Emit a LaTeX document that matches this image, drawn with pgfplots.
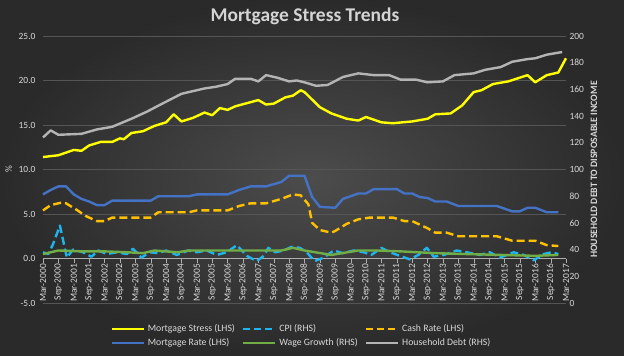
\documentclass[border=0pt]{standalone}
\usepackage{pgfplots}
\pgfplotsset{compat=1.18}
\usepackage{fontspec}
\setmainfont{Carlito}
\definecolor{bgin}{HTML}{4C4C4C}
\definecolor{bgout}{HTML}{2A2A2A}
\definecolor{txt}{HTML}{D9D9D9}
\definecolor{gridc}{HTML}{555555}
\definecolor{cStress}{HTML}{FFFF00}
\definecolor{cCPI}{HTML}{1FB4EC}
\definecolor{cCash}{HTML}{FFC000}
\definecolor{cMort}{HTML}{4472C4}
\definecolor{cWage}{HTML}{70AD47}
\definecolor{cDebt}{HTML}{B4B4B4}
\newcommand\tk{\fontsize{9.5}{11}\selectfont}
\newcommand\legfont{\fontsize{9.8}{12}\selectfont}
\begin{document}
\begin{tikzpicture}
\shade[inner color=bgin, outer color=bgout] (0,0) rectangle (624bp,356bp);
\path[use as bounding box] (0,0) rectangle (624bp,356bp);
\node[text=txt!110!white, font=\fontsize{19.5}{22}\selectfont\bfseries] at (305bp,340bp) {Mortgage Stress Trends};
\begin{axis}[
  at={(43bp,53bp)}, anchor=south west,
  scale only axis, width=523bp, height=267bp,
  xmin=0, xmax=68, ymin=-5, ymax=25,
  axis x line=middle, axis y line=left,
  hide obscured x ticks=false,
  axis line style={-, draw=txt!80!black},
  y axis line style={draw=none},
  ytick={-5,0,...,25},
  xtick={0,2,...,68},
  xticklabels={Mar-2000,Sep-2000,Mar-2001,Sep-2001,Mar-2002,Sep-2002,Mar-2003,Sep-2003,Mar-2004,Sep-2004,Mar-2005,Sep-2005,Mar-2006,Sep-2006,Mar-2007,Sep-2007,Mar-2008,Sep-2008,Mar-2009,Sep-2009,Mar-2010,Sep-2010,Mar-2011,Sep-2011,Mar-2012,Sep-2012,Mar-2013,Sep-2013,Mar-2014,Sep-2014,Mar-2015,Sep-2015,Mar-2016,Sep-2016,Mar-2017},
  x tick label style={rotate=90, anchor=east, font=\tk, text=txt, inner sep=1.5bp},
  y tick label style={font=\tk, text=txt, /pgf/number format/fixed, /pgf/number format/fixed zerofill, /pgf/number format/precision=1},
  /pgf/number format/assume math mode=true,
  ytick style={draw=none},
  xtick style={draw=txt!80!black},
  tick align=outside, major tick length=4bp,
  ymajorgrids, grid style={draw=gridc, line width=0.6bp},
  ylabel={\%}, ylabel style={font=\tk, text=txt},
  every axis plot/.append style={line width=2.4bp, line join=round},
  clip=false,
]
\addplot[cStress] coordinates {(0,11.4)(2,11.6)(4,12.2)(5,12.1)(6,12.7)(7.5,13.1)(9,13.1)(10,13.5)(10.5,13.4)(11.5,14.1)(13,14.3)(14.5,14.9)(16,15.3)(17,16.2)(18,15.4)(19.5,15.8)(21,16.4)(22,16.1)(23,16.9)(24,16.7)(25,17.1)(28,17.8)(29,17.3)(30,17.4)(31.5,18.1)(32.5,18.3)(33.5,18.9)(34,18.7)(36,17.0)(37.5,16.3)(39.5,15.7)(41,15.5)(42,15.9)(44,15.3)(45.5,15.2)(48,15.4)(50,15.7)(51,16.2)(53,16.3)(54.5,17.2)(56,18.7)(57,18.9)(58.5,19.6)(60.5,19.9)(63,20.6)(64,19.8)(65.5,20.6)(67,20.9)(68,22.5)};
\addplot[cCPI, dash pattern=on 8bp off 4bp] coordinates {(0,0.7)(0.7,0.5)(1.3,1.6)(2.2,3.7)(3.1,0.1)(3.9,1.0)(5.2,0.7)(6.3,0.2)(7.2,0.9)(8.3,0.5)(9.6,0.7)(10.9,0.5)(11.7,1.1)(12.8,0.1)(13.9,0.7)(15,0.6)(16,0.9)(17.4,0.4)(18.9,0.9)(20,0.7)(21.3,0.9)(22.6,0.4)(23.9,0.7)(25.2,1.5)(26.5,0.3)(27.8,-0.3)(28.7,0.3)(29.3,1.2)(30.2,0.7)(31.3,0.9)(32.3,1.3)(33.4,1.2)(34.3,0.7)(35.3,-0.3)(36.5,0.1)(37.8,0.9)(39,0.6)(40.4,0.9)(41.7,0.7)(42.7,0.4)(44,1.2)(45.1,0.7)(46.4,0.3)(47.7,-0.1)(48.8,0.4)(49.9,1.2)(50.8,0.2)(52.1,0.4)(53.8,0.9)(55.1,0.7)(56.8,0.4)(58.1,0.7)(59.4,0.1)(61.2,0.7)(62.5,0.4)(63.8,-0.2)(65.1,0.5)(66.1,0.7)(67,0.5)};
\addplot[cCash, dash pattern=on 8bp off 4bp] coordinates {(0,5.4)(1,6.0)(2.5,6.3)(3,6.2)(4.5,5.4)(5.5,4.8)(7,4.2)(8,4.2)(9,4.6)(14,4.6)(15,5.2)(19,5.2)(20,5.4)(24,5.4)(25.5,5.9)(27,6.2)(29,6.2)(31,6.7)(32.5,7.2)(33.5,7.1)(34.5,6.1)(35,4.0)(36,3.2)(37.5,2.9)(38,3.1)(39.5,3.9)(41,4.4)(42.5,4.6)(45.5,4.6)(47,4.2)(48,4.2)(50,3.4)(51,2.9)(52.5,2.9)(54,2.5)(59,2.5)(61,2.0)(64,2.0)(65.5,1.5)(67,1.4)};
\addplot[cMort] coordinates {(0,7.2)(1,7.7)(2,8.1)(3,8.1)(4,7.2)(5,6.7)(6,6.4)(7,6.0)(8,6.0)(9,6.5)(14,6.5)(15,7.0)(19,7.0)(20,7.2)(24,7.2)(25.5,7.7)(27,8.1)(29,8.1)(31,8.6)(32,9.3)(34,9.3)(35,6.9)(36,5.8)(38,5.7)(39,6.7)(41,7.3)(42,7.3)(43,7.8)(46,7.8)(47,7.3)(48,7.3)(49,6.9)(50,6.8)(51,6.4)(52.5,6.4)(54,5.9)(59,5.9)(61,5.3)(62,5.3)(63,5.7)(64,5.7)(65.5,5.2)(67,5.2)};
\addplot[cWage] coordinates {(0,0.5)(2,0.9)(5,0.8)(8,0.8)(11,0.7)(13,0.6)(14.5,0.9)(17.5,0.7)(19,0.9)(22.5,0.9)(25,0.9)(28.5,0.9)(31,0.9)(32.5,1.2)(34,0.9)(37.5,0.4)(41,0.9)(43.5,0.9)(46.5,0.8)(51,0.6)(55,0.5)(59.5,0.4)(64,0.3)(67,0.4)};
\end{axis}
\begin{axis}[
  at={(43bp,53bp)}, anchor=south west,
  scale only axis, width=523bp, height=267bp,
  xmin=0, xmax=68, ymin=0, ymax=200,
  axis x line=none, axis y line*=right,
  y axis line style={draw=none},
  ytick={0,20,...,200}, ytick style={draw=none},
  y tick label style={font=\tk, text=txt},
  /pgf/number format/assume math mode=true,
  ylabel={HOUSEHOLD DEBT TO DISPOSABLE INCOME},
  ylabel style={font=\fontsize{9.8}{11}\selectfont\bfseries, text=txt},
  every axis plot/.append style={line width=2.4bp, line join=round},
  legend columns=3,
  legend style={at={(0.494,-0.123)}, anchor=center, draw=none, fill=none,
    font=\legfont, text=txt, column sep=1bp, row sep=1.5bp,
    /tikz/every even column/.append style={column sep=5bp}},
  legend cell align=left,
  legend image code/.code={\draw[#1] (0bp,0bp) -- (32bp,0bp);},
  clip=false,
]
\addlegendimage{cStress, line width=2.4bp}
\addlegendentry{Mortgage Stress (LHS)}
\addlegendimage{cCPI, line width=2.4bp, dash pattern=on 7bp off 4bp}
\addlegendentry{CPI (RHS)}
\addlegendimage{cCash, line width=2.4bp, dash pattern=on 7bp off 4bp}
\addlegendentry{Cash Rate (LHS)}
\addlegendimage{cMort, line width=2.4bp}
\addlegendentry{Mortgage Rate (LHS)}
\addlegendimage{cWage, line width=2.4bp}
\addlegendentry{Wage Growth (RHS)}
\addplot[cDebt] coordinates {(0,124)(1,129.3)(2,126)(5,126.7)(7,130)(9,132)(11.5,138)(13.5,143.3)(15.5,149.3)(18,156.7)(21,160.7)(22.5,162)(24,164)(25,168)(27,168)(28,166)(29,170.7)(30.5,168.7)(32,166)(33,166.7)(34,165.3)(35.5,162.7)(37,163.3)(39,169.3)(41,172)(43,170.7)(45,170.7)(46.5,167.3)(48.5,167.3)(50,165.3)(52,166)(53.5,170.7)(56,172)(57.5,174.7)(59.5,176.7)(61,180.7)(63,182.7)(64,183.3)(65.5,186)(67.5,188)};
\addlegendentry{Household Debt (RHS)}
\end{axis}
\end{tikzpicture}
\end{document}
